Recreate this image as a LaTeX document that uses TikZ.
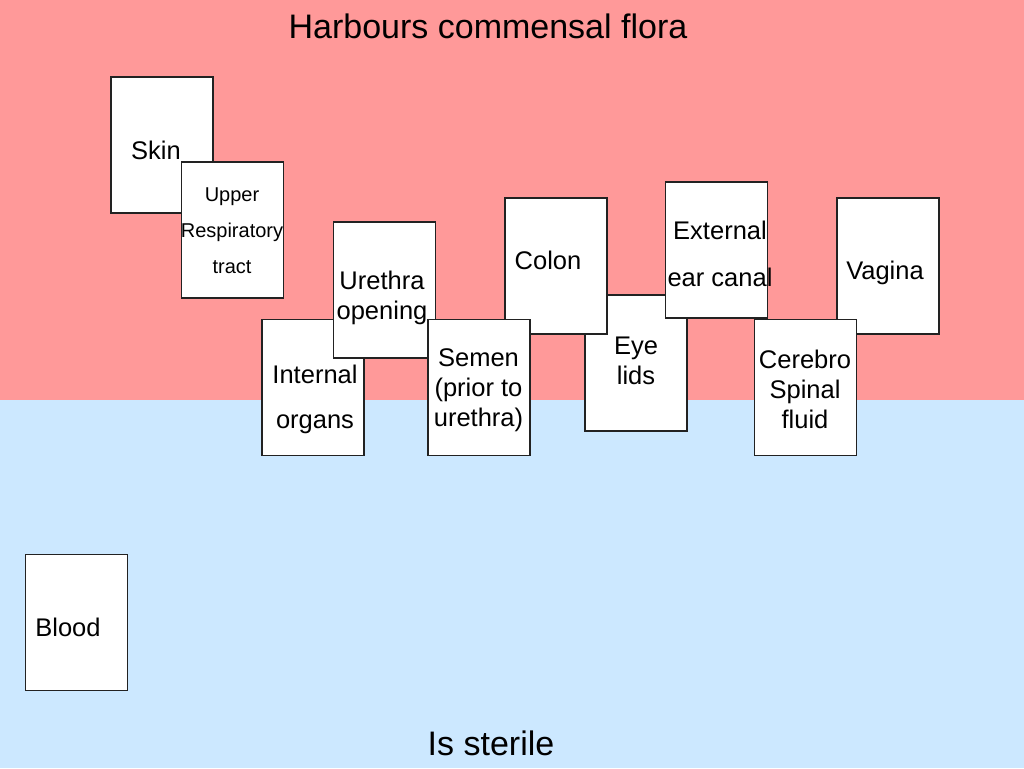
\documentclass[tikz,border=0pt]{standalone}
\usepackage{fontspec}
\setmainfont{Liberation Sans}
\usepackage{xcolor}
\definecolor{floraband}{HTML}{FF9999}
\definecolor{sterileband}{HTML}{CCE8FF}
\definecolor{cardline}{HTML}{222222}
\tikzset{
    card/.style={rectangle, draw=cardline, fill=white, line width=1.3pt, minimum width=102pt, minimum height=136pt, inner sep=0pt},
    cardtext/.style={align=center, font=\fontsize{25.5}{30}\selectfont, inner sep=0pt},
    smalltext/.style={align=center, font=\fontsize{20}{36}\selectfont, inner sep=0pt},
    heading/.style={font=\fontsize{34}{40}\selectfont, inner sep=0pt}
}

\begin{document}
\begin{tikzpicture}[x=1pt, y=-1pt]
    \useasboundingbox (0,0) rectangle (1024,768);
    % two bands
    \fill [floraband] (0,0) rectangle (1024,400);
    \fill [sterileband] (0,400) rectangle (1024,768);
    \node [heading] (flora) at (488,26) {Harbours commensal flora};
    \node [heading] (sterile) at (491,743) {Is sterile};

    % cards, back to front
    \node [card] (skin) at (162,145) {};
    \node [cardtext] (skin-t) at (156,150) {Skin};
    \node [card] (resp) at (232.5,230) {};
    \node [smalltext] (resp-t) at (232,231) {Upper\\Respiratory\\tract};
    \node [card] (organs) at (313,387.5) {};
    \node [cardtext] (organs-t) at (315,399) {Internal\\[15pt]organs};
    \node [card] (urethra) at (384.5,290) {};
    \node [cardtext] (urethra-t) at (382,298) {Urethra\\opening};
    \node [card] (eyelids) at (636,363) {};
    \node [cardtext] (eyelids-t) at (636,361) {Eye\\lids};
    \node [card] (colon) at (556,266) {};
    \node [cardtext] (colon-t) at (548,260) {Colon};
    \node [card] (semen) at (479,387.5) {};
    \node [cardtext] (semen-t) at (478.5,390) {Semen\\(prior to\\urethra)};
    \node [card] (ear) at (716.5,250) {};
    \node [cardtext] (ear-t) at (720,254) {External\\[17pt]ear canal};
    \node [card] (vagina) at (888,266) {};
    \node [cardtext] (vagina-t) at (885,273) {Vagina};
    \node [card] (csf) at (805.5,387.5) {};
    \node [cardtext] (csf-t) at (805,389) {Cerebro\\Spinal\\fluid};
    \node [card] (blood) at (76.5,622.5) {};
    \node [cardtext] (blood-t) at (68,627) {Blood};
\end{tikzpicture}
\end{document}
